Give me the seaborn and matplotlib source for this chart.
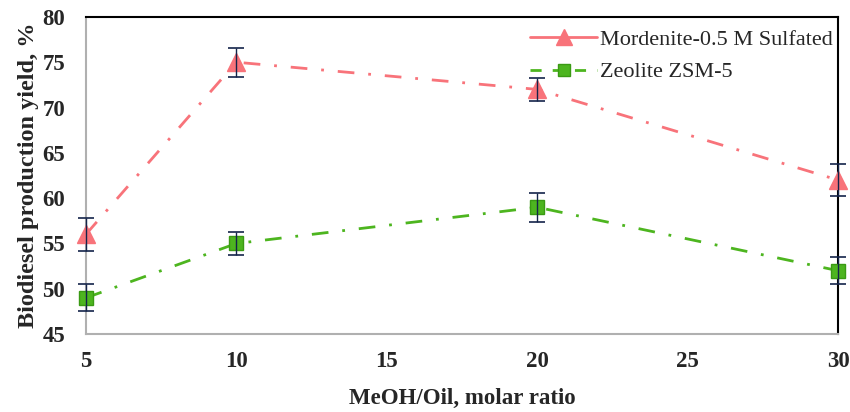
import matplotlib
matplotlib.use("Agg")
import matplotlib.pyplot as plt
import seaborn as sns
import pandas as pd
from matplotlib.lines import Line2D

ratio = [5, 10, 20, 30]
mordenite = [56, 75, 72, 62]
mordenite_err = [1.8, 1.6, 1.3, 1.8]
zeolite = [49, 55, 59, 52]
zeolite_err = [1.5, 1.3, 1.6, 1.5]
series_names = ["Mordenite-0.5 M Sulfated", "Zeolite ZSM-5"]
xticks = [5, 10, 15, 20, 25, 30]
yticks = [45, 50, 55, 60, 65, 70, 75, 80]

sns.set_style("white")
plt.rcParams['font.family'] = ['Liberation Serif', 'DejaVu Serif']

df = pd.DataFrame({
    "ratio": ratio * 2,
    "yield": mordenite + zeolite,
    "series": [series_names[0]] * 4 + [series_names[1]] * 4,
})

fig = plt.figure(figsize=(8.5, 4.12), dpi=100)
ax = fig.add_axes([0.101, 0.189, 0.885, 0.770])

red = "#F8737A"
green = "#4DB51F"
navy = "#14244A"

sns.lineplot(data=df, x="ratio", y="yield", hue="series",
             palette=[red, green], ax=ax, legend=False, linewidth=2,
             linestyle=(0, (6, 5, 1, 5)), zorder=2)

ax.plot(ratio, mordenite, linestyle="none", marker="^", markersize=12.5,
        color=red, zorder=3, clip_on=False)
ax.plot(ratio, zeolite, linestyle="none", marker="s", markersize=10,
        color=green, markeredgecolor="#3A9A14", zorder=3, clip_on=False)
ax.errorbar(ratio, mordenite, yerr=mordenite_err, fmt="none", ecolor=navy,
            elinewidth=1.0, capsize=6, capthick=1.2, zorder=4, clip_on=False)
ax.errorbar(ratio, zeolite, yerr=zeolite_err, fmt="none", ecolor=navy,
            elinewidth=1.0, capsize=6, capthick=1.2, zorder=4, clip_on=False)

ax.set_xlim(5, 30)
ax.set_ylim(45, 80)
ax.set_xticks(xticks)
ax.set_yticks(yticks)
ax.set_xticklabels([str(v) for v in xticks], fontsize=16.5, fontweight="bold")
ax.set_yticklabels([str(v) for v in yticks], fontsize=16.5, fontweight="bold")
ax.tick_params(axis="both", direction="out", length=6, width=1.2,
               color="#B0B0B0")
ax.tick_params(axis="y", pad=9)
ax.tick_params(axis="x", pad=6)

for s in ["left", "bottom"]:
    ax.spines[s].set_color("#B0B0B0")
    ax.spines[s].set_linewidth(1.5)
for s in ["top", "right"]:
    ax.spines[s].set_color("black")
    ax.spines[s].set_linewidth(1.5)

ax.set_xlabel("MeOH/Oil, molar ratio", fontsize=16.5, fontweight="bold", labelpad=12)
ax.set_ylabel("Biodiesel production yield, %", fontsize=17.5, fontweight="bold", labelpad=2)

handles = [
    Line2D([], [], color=red, linewidth=2, marker="^", markersize=12),
    Line2D([], [], color=green, linewidth=2, linestyle=(0, (4, 4)), marker="s",
           markersize=9, markeredgecolor="#3A9A14"),
]
ax.legend(handles, series_names, loc="upper right", frameon=False,
          fontsize=16, handlelength=3.0, borderaxespad=0.0,
          bbox_to_anchor=(1.005, 0.99), labelspacing=0.55, handletextpad=0.15)

fig.savefig("out.png", dpi=100)
